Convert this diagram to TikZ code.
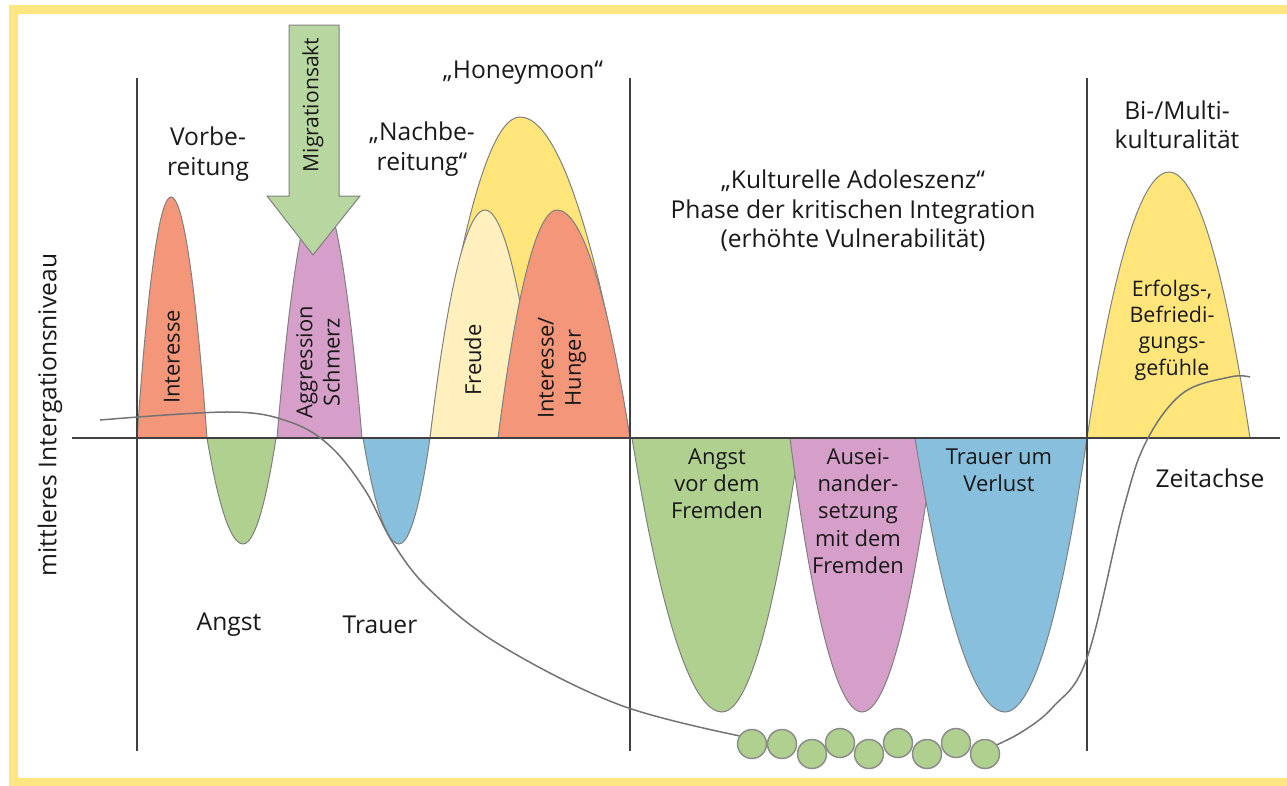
\documentclass[tikz,border=0pt]{standalone}
\usepackage{fontspec}
\setmainfont{Open Sans}
\usetikzlibrary{positioning}

\definecolor{frameyellow}{HTML}{FFE680}
\definecolor{humporange}{HTML}{F3967A}
\definecolor{humpgreen}{HTML}{B0D08F}
\definecolor{arrowgreen}{HTML}{B8D6A0}
\definecolor{humppink}{HTML}{D69FC9}
\definecolor{humpblue}{HTML}{88BFDC}
\definecolor{humpyellow}{HTML}{FFE57A}
\definecolor{humplight}{HTML}{FFF0BE}

\tikzset{
  hump/.style={draw=black!50, line width=0.2mm},
  axisline/.style={draw=black!75, line width=0.4mm},
  lbl/.style={align=center, font=\fontsize{14}{16.8}\selectfont, text=black!90, inner sep=0pt},
  inlbl/.style={align=center, font=\fontsize{12.5}{15.5}\selectfont, text=black!90, inner sep=0pt},
  bead/.style={draw=black!45, line width=0.3mm, fill=humpgreen}
}

\begin{document}
\begin{tikzpicture}[x=0.2mm, y=-0.2mm]
\useasboundingbox (0,0) rectangle (1287,786);

% frame
\draw[frameyellow, line width=1.8mm] (13.5,9.5) rectangle (1300,782);

% first phase
\draw[hump, fill=humporange] (137,438) parabola bend (171,197) (207,438);
\draw[hump, fill=humpgreen] (207,438) parabola bend (243,544) (276,438);
\draw[hump, fill=humppink] (277,438) parabola bend (319,190) (362,438);
\draw[hump, fill=humpblue] (363,438) parabola bend (399,544) (430,438);

% honeymoon
\draw[hump, fill=humpyellow] (430,438) parabola bend (520,117) (630,438);
\draw[hump, fill=humplight] (430,438) parabola bend (485,210) (540,438);
\draw[hump, fill=humporange] (498,438) parabola bend (557,210) (630,438);

% critical integration
\draw[hump, fill=humpgreen] (632,438) parabola bend (722,712) (800,438);
\draw[hump, fill=humppink] (790,438) parabola bend (862,712) (935,438);
\draw[hump, fill=humpblue] (915,438) parabola bend (1005,712) (1087,438);

% bi-/multiculturality
\draw[hump, fill=humpyellow] (1087,438) parabola bend (1169,172) (1250,438);

% migration arrow
\draw[hump, fill=arrowgreen] (289,25) -- (339,25) -- (339,196) -- (360,196)
  -- (313,255) -- (267,196) -- (289,196) -- cycle;

% axes
\draw[axisline] (72,438) -- (1280,438);
\foreach \x in {137,630,1087}
  \draw[axisline] (\x,78) -- (\x,751);

% mean integration level
\draw[black!55, line width=0.3mm]
  plot[smooth, tension=0.6] coordinates {(100,420) (230,412) (290,422) (330,446)
    (365,490) (393,543) (430,590) (500,645) (620,705) (745,737)};
\draw[black!55, line width=0.3mm]
  plot[smooth, tension=0.6] coordinates {(985,750) (1020,733) (1053,707)
    (1087,658) (1124,507) (1147,440) (1183,393) (1230,377) (1250,377)};

\foreach \cx/\cy [count=\i] in {752/744, 782/744, 812/754, 840/743, 869/754,
    898/743, 927/754, 956/743, 985/754}
  \draw[bead] (\cx,\cy) circle (14.5);

% labels
\node[lbl] (vorb) at (208,154) {Vorbe-\\reitung};
\node[inlbl, font=\fontsize{12}{15}\selectfont, rotate=90] (migr) at (313,105) {Migrationsakt};
\node[lbl] (nachb) at (422,149) {„Nachbe-\\reitung“};
\node[lbl] (honey) at (523,73) {„Honeymoon“};
\node[lbl] (kult) at (853,211) {„Kulturelle Adoleszenz“\\Phase der kritischen Integration\\(erhöhte Vulnerabilität)};
\node[lbl] (multi) at (1177,125) {Bi-/Multi-\\kulturalität};
\node[lbl] (angst) at (229,625) {Angst};
\node[lbl] (trauer) at (380,625) {Trauer};
\node[lbl] (zeit) at (1210,478) {Zeitachse};
\node[lbl, rotate=90] (niveau) at (50,415) {mittleres Intergationsniveau};

\node[inlbl, rotate=90] (inter) at (172,357) {Interesse};
\node[inlbl, rotate=90] (aggr) at (318,362) {Aggression\\Schmerz};
\node[inlbl, rotate=90] (freude) at (473,360) {Freude};
\node[inlbl, rotate=90] (hunger) at (562,368) {Interesse/\\Hunger};
\node[inlbl, anchor=north] (fremd) at (717,448) {Angst\\vor dem\\Fremden};
\node[inlbl, anchor=north] (ausein) at (858,448) {Ausei-\\nander-\\setzung\\mit dem\\Fremden};
\node[inlbl, anchor=north] (verlust) at (999,448) {Trauer um\\Verlust};
\node[inlbl, font=\fontsize{12.2}{15}\selectfont] (erfolg) at (1172,330) {Erfolgs-,\\Befriedi-\\gungs-\\gefühle};
\end{tikzpicture}
\end{document}
